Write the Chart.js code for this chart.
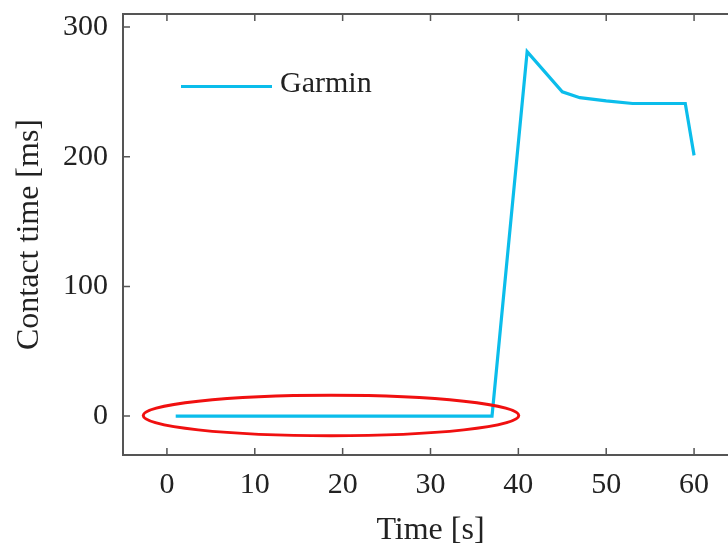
<!DOCTYPE html>
<html>
<head>
<meta charset="utf-8">
<script src="https://cdn.jsdelivr.net/npm/chart.js@4/dist/chart.umd.min.js"></script>
<style>
  html, body { margin: 0; padding: 0; background: #fff; overflow: hidden; width: 728px; height: 545px; }
  #wrap { width: 740px; height: 545px; }
</style>
</head>
<body>
<div id="wrap"><canvas id="c" width="740" height="545"></canvas></div>
<script>
// ---- data ----
const seriesName = "Garmin";
const timeS = [1, 37, 41, 45, 47, 50, 53, 59, 60];
const contactMs = [0, 0, 281, 250, 245.5, 243, 241, 241, 201];
const xTicks = [0, 10, 20, 30, 40, 50, 60];
const yTicks = [0, 100, 200, 300];
const xLabel = "Time [s]";
const yLabel = "Contact time [ms]";
// highlighted region (data coords): xMin, xMax, yMin, yMax
const highlightX = [-2.7, 40.05];
const highlightY = [-15.2, 16];

const FONT = "'Liberation Serif', 'Times New Roman', serif";
const AXIS = "#555";
const TEXT = "#222";

const boxPlugin = {
  id: 'box',
  afterDatasetsDraw(chart) {
    const { ctx, chartArea: a, scales: { x, y } } = chart;
    ctx.save();
    // highlight ellipse
    const x1 = x.getPixelForValue(highlightX[0]), x2 = x.getPixelForValue(highlightX[1]);
    const y1 = y.getPixelForValue(highlightY[1]), y2 = y.getPixelForValue(highlightY[0]);
    ctx.beginPath();
    ctx.ellipse((x1 + x2) / 2, (y1 + y2) / 2, (x2 - x1) / 2, (y2 - y1) / 2, 0, 0, Math.PI * 2);
    ctx.strokeStyle = '#f01010';
    ctx.lineWidth = 3;
    ctx.stroke();
    // axes box
    ctx.strokeStyle = AXIS;
    ctx.lineWidth = 2;
    ctx.beginPath();
    ctx.moveTo(a.right + 5, a.top); ctx.lineTo(a.left, a.top);
    ctx.lineTo(a.left, a.bottom); ctx.lineTo(a.right + 5, a.bottom);
    ctx.stroke();
    ctx.lineWidth = 1.5;
    ctx.beginPath();
    xTicks.forEach(v => {
      const px = x.getPixelForValue(v);
      ctx.moveTo(px, a.bottom); ctx.lineTo(px, a.bottom - 7);
      ctx.moveTo(px, a.top); ctx.lineTo(px, a.top + 7);
    });
    yTicks.forEach(v => {
      const py = y.getPixelForValue(v);
      ctx.moveTo(a.left, py); ctx.lineTo(a.left + 7, py);
    });
    ctx.stroke();
    // legend
    const ly = 86.5;
    ctx.beginPath();
    ctx.moveTo(181, ly); ctx.lineTo(272, ly);
    ctx.strokeStyle = chart.data.datasets[0].borderColor;
    ctx.lineWidth = 3;
    ctx.stroke();
    ctx.fillStyle = TEXT;
    ctx.font = "30px " + FONT;
    ctx.textBaseline = 'middle';
    ctx.textAlign = 'left';
    ctx.fillText(chart.data.datasets[0].label, 280, ly - 2);
    ctx.restore();
  }
};

new Chart(document.getElementById('c'), {
  type: 'scatter',
  data: {
    datasets: [{
      label: seriesName,
      data: timeS.map((t, i) => ({ x: t, y: contactMs[i] })),
      showLine: true,
      borderColor: '#0BBDEB',
      borderWidth: 3.2,
      pointRadius: 0,
      tension: 0
    }]
  },
  options: {
    responsive: false,
    animation: false,
    layout: { padding: { top: 14, right: 2, left: 0, bottom: 0 } },
    plugins: { legend: { display: false }, tooltip: { enabled: false } },
    scales: {
      x: {
        type: 'linear', min: -5, max: 65,
        afterBuildTicks: s => { s.ticks = xTicks.map(v => ({ value: v })); },
        afterFit: s => { s.height = 90; s.paddingLeft = 0; s.paddingRight = 0; },
        grid: { display: false, drawTicks: false },
        border: { display: false },
        ticks: { padding: 12, color: TEXT, font: { family: FONT, size: 30 } },
        title: { display: true, text: xLabel, color: TEXT, font: { family: FONT, size: 32 }, padding: { top: 0, bottom: -5 } }
      },
      y: {
        type: 'linear', min: -30, max: 310,
        afterBuildTicks: s => { s.ticks = yTicks.map(v => ({ value: v })); },
        afterFit: s => { s.width = 123; s.paddingTop = 0; s.paddingBottom = 0; },
        grid: { display: false, drawTicks: false },
        border: { display: false },
        ticks: { padding: 15, color: TEXT, font: { family: FONT, size: 30 } },
        title: { display: true, text: yLabel, color: TEXT, font: { family: FONT, size: 32 }, padding: { top: 10, bottom: 0 } }
      }
    }
  },
  plugins: [boxPlugin]
});
</script>
</body>
</html>
